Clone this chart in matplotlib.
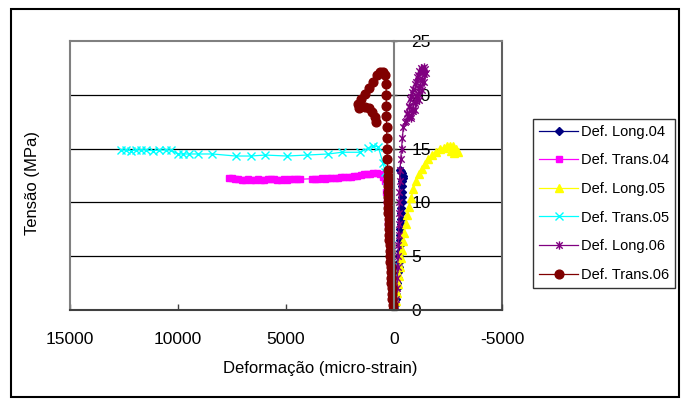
import matplotlib.pyplot as plt
import numpy as np
from matplotlib.path import Path
from matplotlib.patches import Rectangle

plt.rcParams['font.family'] = ['Liberation Sans', 'DejaVu Sans']
plt.rcParams['axes.unicode_minus'] = False

# Strain (micro-strain) and stress (MPa) for each gauge
long04_eps = [0, -40, -80, -110, -140, -160, -180, -200, -210, -230, -240, -260, -270,
              -280, -290, -300, -310, -320, -330, -340, -350, -360, -370, -380, -390,
              -400, -420, -380, -320, -260]
long04_sig = [0, 0.5, 1, 1.5, 2, 2.5, 3, 3.5, 4, 4.5, 5, 5.5, 6, 6.5, 7, 7.5, 8, 8.5,
              9, 9.5, 10, 10.5, 11, 11.5, 12, 12.3, 12.5, 12.7, 12.9, 13.0]

trans04_eps = [0, 50, 80, 110, 140, 170, 200, 230, 260, 290, 320, 360, 420, 520, 650,
               800, 950, 1100, 1250, 1400, 1550, 1700, 1850, 2000, 2150, 2300, 2450,
               2600, 2750, 2900, 3050, 3200, 3350, 3500, 3650, 3800, 4350, 4500, 4650,
               4800, 4950, 5100, 5250, 5400, 5550, 5700, 5850, 6000, 6150, 6300, 6450,
               6600, 6750, 6900, 7050, 7200, 7350, 7500, 7636]
trans04_sig = [0, 1, 2, 3, 4, 5, 6, 7, 8, 9, 10, 11, 12, 12.4, 12.6,
               12.75, 12.7, 12.65, 12.6, 12.6, 12.55, 12.5, 12.45, 12.4, 12.4, 12.35, 12.35,
               12.3, 12.3, 12.3, 12.25, 12.2, 12.25, 12.2, 12.2, 12.2, 12.15, 12.2, 12.2,
               12.15, 12.1, 12.15, 12.1, 12.1, 12.15, 12.2, 12.15, 12.1, 12.1, 12.15, 12.1,
               12.1, 12.15, 12.1, 12.1, 12.15, 12.2, 12.25, 12.3]

long05_eps = [0, -90, -140, -190, -240, -290, -330, -370, -420, -470, -540, -610, -690,
              -790, -900, -1020, -1150, -1280, -1420, -1580, -1750, -1930, -2120, -2300,
              -2450, -2600, -2750, -2880, -2950, -2800, -2650]
long05_sig = [0, 0.8, 1.6, 2.4, 3.2, 4.0, 4.8, 5.6, 6.4, 7.2, 8.0, 8.8, 9.6, 10.4, 11.2,
              12.0, 12.6, 13.1, 13.6, 14.0, 14.4, 14.7, 14.95, 15.1, 15.2, 15.25, 15.2,
              15.0, 14.7, 14.6, 14.8]

trans05_eps = [0, 50, 70, 90, 110, 130, 150, 170, 190, 210, 230, 250, 184, 322, 414, 506,
               736, 966, 1196, 1578, 2424, 3036, 4035, 4955, 5950, 6640, 7330, 8405,
               9095, 9477, 9785, 10015, 10320, 10550, 10860, 11170, 11470, 11700, 11930,
               12160, 12390, 12620]
trans05_sig = [0, 1, 2, 3, 4, 5, 6, 7, 8, 9, 10, 11, 11.34, 12.08, 12.83, 13.66,
               15.18, 15.24, 15.03, 14.66, 14.66, 14.5, 14.4, 14.31, 14.4, 14.31, 14.31,
               14.5, 14.5, 14.5, 14.5, 14.5, 14.87, 14.87, 14.87, 14.8, 14.87, 14.9,
               14.87, 14.8, 14.87, 14.87]

long06_eps = [0, -60, -100, -130, -150, -170, -190, -200, -210, -220, -230, -240, -250,
              -260, -280, -310, -350, -390, -430,
              -520, -780, -600, -880, -680, -980, -760, -1080, -850, -1180, -950, -1280,
              -1050, -1380, -1150, -1430, -1250, -1350, -1100, -1300, -1000, -1200, -900,
              -1100, -800, -1000, -700, -900, -620, -800, -560, -700, -950, -1150, -1300,
              -1400, -1480, -1400]
long06_sig = [0, 0.5, 1, 2, 3, 4, 5, 6, 7, 8, 9, 10, 11, 12, 13, 14, 15, 16, 17,
              17.5, 17.8, 18.2, 18.5, 18.9, 19.2, 19.6, 19.9, 20.3, 20.6, 21.0, 21.3,
              21.7, 21.9, 22.2, 22.4, 22.5, 22.1, 21.8, 21.5, 21.2, 20.8, 20.5,
              20.1, 19.8, 19.4, 19.0, 18.7, 18.3, 18.0, 17.6, 17.9, 18.6, 19.5, 20.4,
              21.2, 22.0, 22.6]

trans06_eps = [50, 65, 80, 95, 110, 125, 140, 150, 160, 170, 180, 190, 200, 210, 220,
               230, 240, 248, 255, 262, 270, 275, 280, 285, 290, 295, 300, 310, 320, 330,
               340, 350, 355, 360, 365, 400, 520, 650, 800, 950, 1150, 1350, 1550, 1680,
               1600, 1350, 1150, 1000, 900, 820]
trans06_sig = [0, 0.5, 1, 1.5, 2, 2.5, 3, 3.5, 4, 4.5, 5, 5.5, 6, 6.5, 7, 7.5, 8, 8.5,
               9, 9.5, 10, 10.5, 11, 11.5, 12, 12.5, 13, 14, 15, 16, 17, 18, 19, 20, 21,
               21.8, 22.1, 22.1, 21.8, 21.2, 20.6, 20.1, 19.6, 19.1, 18.8, 18.9, 18.8,
               18.4, 17.9, 17.5]

labels = ['Def. Long.04', 'Def. Trans.04', 'Def. Long.05',
          'Def. Trans.05', 'Def. Long.06', 'Def. Trans.06']

# asterisk marker: x plus vertical bar
star = Path([(-1, -1), (1, 1), (-1, 1), (1, -1), (0, -1.3), (0, 1.3)],
            [Path.MOVETO, Path.LINETO, Path.MOVETO, Path.LINETO, Path.MOVETO, Path.LINETO])

W, H = 682, 401
fig = plt.figure(figsize=(W / 100, H / 100), dpi=100)
ax = fig.add_axes([70 / W, (H - 310) / H, (502 - 70) / W, (310 - 41) / H])

styles = [
    (long04_eps, long04_sig, '#000080', 'D', 4.5),
    (trans04_eps, trans04_sig, '#FF00FF', 's', 5),
    (long05_eps, long05_sig, '#FFFF00', '^', 5.5),
    (trans05_eps, trans05_sig, '#00FFFF', 'x', 5.5),
    (long06_eps, long06_sig, '#800080', star, 6),
    (trans06_eps, trans06_sig, '#800000', 'o', 6.3),
]
for (eps, sig, c, m, ms), lab in zip(styles, labels):
    ax.plot(eps, sig, color=c, lw=0.9, marker=m, ms=ms, mfc=c, mec=c, mew=1.0,
            label=lab)

ax.set_xlim(15000, -5000)
ax.set_ylim(0, 25)
ax.set_xticks([15000, 10000, 5000, 0, -5000])
ax.set_yticks([0, 5, 10, 15, 20, 25])

for y in [5, 10, 15, 20]:
    ax.axhline(y, color='black', lw=0.9, zorder=0)

# plot area frame, with the value axis crossing at zero strain
for s in ['top', 'left']:
    ax.spines[s].set_color('#808080')
    ax.spines[s].set_linewidth(1.5)
ax.spines['bottom'].set_color('#404040')
ax.spines['bottom'].set_linewidth(1.5)
ax.spines['right'].set_position(('data', 0))
ax.spines['right'].set_color('#808080')
ax.spines['right'].set_linewidth(1.5)
ax.plot([-5000, -5000], [0, 25], color='#606060', lw=1.5, clip_on=False, zorder=0)

ax.yaxis.tick_right()
ax.tick_params(axis='y', direction='inout', length=5, width=1, color='#404040',
               pad=10, labelsize=12.5)
ax.tick_params(axis='x', direction='in', length=4, width=1, color='#404040',
               pad=16, labelsize=12.5)

fig.text(320 / W, 1 - 369 / H, 'Deformação (micro-strain)', ha='center', va='center',
         fontsize=12)
fig.text(32 / W, 1 - 183 / H, 'Tensão (MPa)', ha='center', va='center',
         rotation=90, fontsize=12)

leg = fig.legend(loc='upper left', bbox_to_anchor=(533 / W, 1 - 119 / H),
                 fontsize=10.5, frameon=True, fancybox=False, handlelength=2.7,
                 labelspacing=1.0, borderpad=0.4, handletextpad=0.2,
                 borderaxespad=0)
leg.get_frame().set_edgecolor('black')
leg.get_frame().set_linewidth(1)

# chart border
fig.patches.append(Rectangle((11 / W, 1 - 397 / H), 668 / W, 388 / H,
                             transform=fig.transFigure, fill=False,
                             edgecolor='black', lw=1.5))

fig.savefig('out.png', dpi=100)
